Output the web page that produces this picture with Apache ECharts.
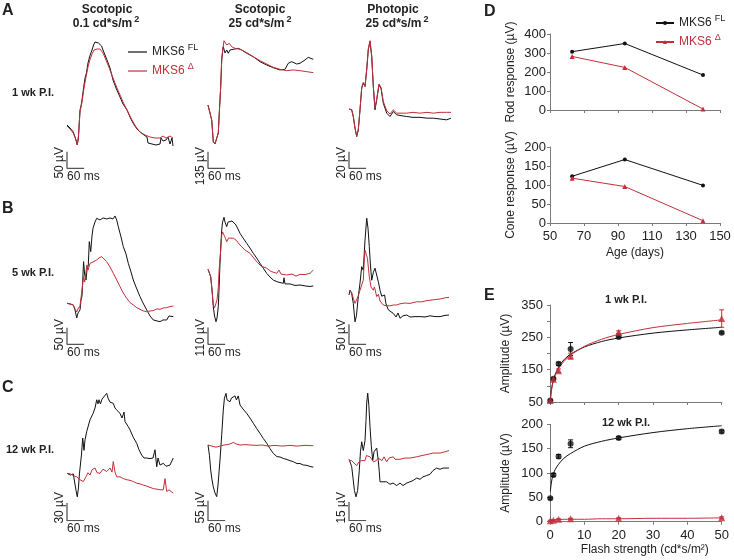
<!DOCTYPE html>
<html><head><meta charset="utf-8">
<script src="https://cdn.jsdelivr.net/npm/echarts@6/dist/echarts.min.js"></script>
<style>html,body{margin:0;padding:0;background:#fff}#c{width:734px;height:560px}</style>
</head><body><div id="c"></div>
<script>
// ---------- ERG traces: [time (ms), amplitude (µV, relative to pre-flash level)] ----------
const A1_FL = [[0,0],[10.5,-9],[22,-21],[31.5,-45],[36,-60],[40,-39],[45.5,45],[49,57],[52.5,75],[58,111],[63,141],[68,156],[73.5,186],[80,207],[87.5,225],[93,240],[98,249],[105,252],[110,246],[115.5,252],[121,237],[126,225],[133,210],[140,195],[150.5,171],[161,135],[171.5,111],[185.5,84],[196,63],[210,45],[220.5,24],[231,6],[245,-12],[255.5,-21],[269.5,-30],[280,-36],[283.5,-54],[297.5,-57],[311.5,-60],[325.5,-57],[329,-39],[336,-48],[346.5,-45],[353.5,-36],[360.5,-57],[367.5,-39],[371,-63]];
const A1_D = [[0,-3],[10.5,-12],[22,-24],[31.5,-45],[36,-60],[40,-33],[45.5,39],[52.5,69],[59.5,111],[66.5,144],[73.5,174],[80,195],[87.5,213],[94.5,225],[105,228],[115.5,228],[126,216],[136.5,195],[150.5,165],[161,141],[175,111],[185.5,90],[199.5,63],[213.5,39],[227.5,15],[241.5,-6],[255.5,-21],[273,-30],[290.5,-36],[308,-39],[325.5,-39],[336,-33],[346.5,-39],[360.5,-33],[371,-39]];
const A2_FL = [[0,0],[7,-14],[13,-122],[18.5,-297],[24.5,-316],[30.5,-332],[36,-227],[39.5,-65],[44.5,148],[48,365],[51.5,446],[53.5,472],[59.5,421],[65.5,446],[71,419],[77,446],[88.5,451],[106,459],[118,446],[135.5,419],[158.5,391],[182,351],[205.5,324],[228.5,302],[252,284],[269.5,289],[281,338],[293,351],[310.5,332],[322,338],[339.5,365],[351,386],[368.5,370]];
const A2_D = [[0,0],[7,-14],[13,-122],[18.5,-297],[24.5,-316],[30.5,-332],[36,-227],[39.5,-65],[44.5,148],[48,365],[51.5,446],[56,521],[65.5,486],[74.5,500],[83,472],[94.5,459],[112,451],[135.5,424],[158.5,391],[182,359],[205.5,332],[228.5,305],[252,289],[275.5,278],[298.5,284],[322,278],[345.5,270],[368.5,262]];
const A3_FL = [[0,0],[9.5,-1],[15,-9],[21,-23],[27,-33],[32.5,-25],[38.5,-1],[44.5,25],[50,31],[56,27],[62,47],[67.5,71],[73.5,81],[79.5,63],[85,27],[91,-1],[97,11],[105,29],[112,25],[120,7],[132,-5],[143.5,-9],[155,-3],[167,-7],[182,-8],[202,-9],[224,-10],[248.5,-10],[273,-11],[295,-11],[318.5,-12],[342,-13],[357,-11]];
const A3_D = [[0,0],[9.5,-1],[15,-9],[21,-23],[27,-33],[32.5,-25],[38.5,-1],[44.5,26],[50,32],[56,27],[62,48],[67.5,72],[73.5,82],[79.5,64],[85,28],[91,1],[97,12],[105,30],[112,26],[120,9],[132,-2],[143.5,-6],[155,-1],[167,-5],[182,-5],[202,-5],[224,-4],[248.5,-5],[273,-4],[295,-5],[318.5,-4],[342,-4],[357,-4]];
const B1_FL = [[0,0],[10.5,-2],[22,-5],[28,-20],[34,-44],[38.5,-29],[45.5,-20],[49,10],[52.5,22],[58,125],[62,85],[66.5,70],[70,100],[74.5,115],[78,185],[83,155],[87.5,202],[91,225],[98,244],[104,255],[115.5,250],[126,256],[139,253],[150.5,256],[161,253],[168,262],[174,250],[179.5,230],[189,199],[197,170],[206.5,148],[214.5,120],[224,94],[232,70],[241.5,49],[255.5,20],[266,1],[279,-20],[290.5,-38],[302,-50],[315,-53],[325.5,-55],[336,-50],[349,-50],[357,-38],[364,-43],[372,-40]];
const B1_D = [[0,0],[10.5,-2],[22,-5],[28,-17],[34,-26],[38.5,-17],[45.5,-8],[52.5,40],[58,80],[62,64],[69.5,115],[74,100],[80.5,120],[91,124],[104,130],[112,136],[121.5,140],[129.5,133],[139,125],[150.5,109],[162,90],[174,70],[185.5,50],[197,31],[209,15],[220.5,2],[232,-5],[244,-13],[255.5,-18],[267,-23],[279,-25],[290.5,-23],[302,-22],[314,-17],[325.5,-18],[337,-14],[349,-13],[360.5,-10],[372,-8]];
const B2_FL = [[0,0],[9.5,-48],[14,-135],[18.5,-243],[23,-304],[28,-341],[31.5,-317],[36,-243],[38.5,-135],[42,39],[45,158],[48,255],[51,307],[56,338],[59.5,307],[65.5,277],[70,307],[77,299],[84,314],[88.5,309],[98,288],[112,234],[122.5,204],[135.5,169],[147,138],[158.5,104],[170.5,73],[182,39],[193.5,7],[205.5,-26],[217,-50],[228.5,-70],[245,-83],[263.5,-91],[266,-55],[269.5,-95],[287,-95],[304.5,-105],[322,-102],[339.5,-108],[357,-112],[368.5,-108]];
const B2_D = [[0,0],[9.5,-48],[14,-135],[18.5,-230],[23,-250],[28,-240],[31.5,-200],[36,-120],[39,0],[44.5,125],[48,223],[51,243],[56,255],[61,203],[65.5,179],[72,203],[77,190],[88.5,202],[98,190],[112,158],[129.5,125],[147,104],[170.5,49],[186,21],[205.5,7],[220.5,-14],[240.5,-26],[248.5,-5],[255.5,-31],[275.5,-37],[294,-31],[308,-44],[322,-33],[339.5,-34],[357,-26],[368.5,-5]];
const B3_FL = [[0,0],[3.5,12],[9,5],[15,-21],[21,-67],[26,-52],[32.5,-4],[38.5,30],[44.5,71],[50,62],[56,137],[62,192],[66.5,167],[71,121],[75,75],[79.5,37],[85.5,57],[91,67],[97,62],[103,32],[108.5,12],[114.5,-3],[120,-8],[124.5,0],[129.5,-22],[137.5,-37],[147,-42],[155,-46],[164.5,-55],[171.5,-45],[178.5,-58],[189,-52],[202,-50],[213.5,-55],[231,-54],[248.5,-54],[266,-55],[283.5,-52],[301,-54],[318.5,-54],[336,-51],[350,-50]];
const B3_D = [[0,10],[3.5,12],[9,7],[15,-8],[21,-21],[27,-17],[32.5,-2],[38.5,12],[44.5,25],[50,37],[53,82],[56,112],[62,117],[64.5,92],[71,46],[77,20],[85,12],[89,20],[97,-4],[103,2],[108.5,-15],[120,-25],[132,-27],[143.5,-27],[155,-25],[167,-25],[178.5,-22],[196,-20],[213.5,-21],[236,-17],[255,-17],[273,-14],[295,-12],[318.5,-10],[336,-7],[350,-6]];
const C1_FL = [[0,0],[11.5,-3],[22,-1],[28,-3],[31.5,-29],[36,-40],[40,-25],[43.5,-1],[45.5,-3],[50.5,31],[55,60],[59.5,39],[63,57],[69,71],[73.5,68],[80.5,91],[85.5,94],[91.5,102],[98,111],[104,125],[108.5,118],[112,125],[117,118],[122.5,126],[129.5,123],[139,136],[143.5,128],[150.5,121],[162,119],[168,111],[175,107],[185.5,102],[192.5,94],[199.5,104],[203,88],[213.5,80],[220.5,74],[231,62],[244,51],[252,40],[261.5,31],[269.5,26],[279,26],[290.5,25],[301,26],[308,40],[314,11],[318.5,26],[325.5,14],[337,17],[346.5,12],[360.5,14],[367.5,14],[372,26]];
const C1_D = [[0,0],[11.5,-1],[22,-4],[34,-6],[45.5,-11],[57,-14],[66.5,-6],[73.5,1],[80.5,-3],[87.5,6],[98,9],[105,1],[115.5,0],[126,7],[139,3],[150.5,9],[157.5,2],[162,20],[168,2],[174,-6],[185.5,-6],[197,-9],[210,-11],[220.5,-12],[232,-14],[245,-17],[255.5,-18],[267,-20],[280,-22],[290.5,-24],[302,-26],[315,-27],[325.5,-28],[337,-28],[343,-9],[349,-31],[357,-28],[372,-34]];
const C2_FL = [[0,0],[5,-28],[9.5,-69],[14,-96],[18.5,-115],[24.5,-132],[30.5,-142],[35,-110],[42,-41],[48,28],[53.5,96],[57.5,129],[63,142],[66.5,124],[71.5,129],[77,119],[82,129],[88.5,124],[94.5,135],[99.5,124],[106,135],[112,110],[122.5,99],[135.5,87],[147,74],[158.5,60],[170.5,45],[182,32],[193.5,18],[205.5,5],[217,-10],[228.5,-23],[241.5,-32],[252,-33],[259,-28],[263.5,-37],[273,-39],[287,-43],[298.5,-46],[311.5,-51],[322,-51],[333.5,-55],[346.5,-56],[357,-59],[368.5,-61]];
const C2_D = [[0,0],[7,-3],[17.5,-4],[28,-6],[42,-3],[56,0],[70,1],[80.5,4],[88.5,7],[98,3],[112,0],[129.5,1],[147,0],[168,-1],[189,0],[210,-3],[234.5,-1],[259,-3],[287,-1],[311.5,-3],[339.5,-1],[368.5,-2]];
const C3_FL = [[0,0],[5,-3],[9.5,-6],[14,-15],[19,-25],[24.5,-30],[30,-25],[36,-9],[40,6],[44.5,14],[50,7],[56,15],[59.5,31],[62,45],[65.5,53],[69.5,43],[73.5,26],[78,11],[83,-1],[87.5,6],[91,7],[97,9],[102.5,-1],[106,-10],[108.5,-18],[119,-18],[132,-18],[143.5,-20],[154,-19],[167,-21],[178.5,-19],[189,-21],[202,-19],[213.5,-18],[224,-17],[237,-15],[248.5,-16],[259,-14],[272,-13],[283.5,-12],[294,-9],[307,-7],[318.5,-8],[329,-7],[339.5,-7],[350,-7]];
const C3_D = [[0,-1],[8.5,-1],[17.5,-3],[27,-5],[35,-2],[43.5,-1],[50,0],[56,-1],[61,3],[66.5,4],[73.5,2],[80.5,1],[85.5,-2],[91,-3],[96,-1],[101.5,1],[108.5,1],[115.5,-1],[122.5,2],[132,-2],[140,1],[147,0],[155,2],[161,0],[168,1],[178.5,0],[196,1],[213.5,1],[237,2],[255.5,3],[276.5,4],[295,5],[318.5,5],[336,6],[350,7]];

// scale bars
const SCALE_MS = 60;
const SCALE_UV = [50, 135, 20, 50, 110, 50, 30, 55, 15];

// ---------- Panel D ----------
const AGE = [63, 94, 140];
const ROD_FL = [307, 350, 184];
const ROD_D = [282, 224, 5];
const CONE_FL = [123, 167, 99];
const CONE_D = [118, 96, 6];

// ---------- Panel E ----------
const FLASH = [0.1, 1, 2.5, 6, 20, 50];
const E1_FL = [55, 122, 168, 214, 251, 264];
const E1_FL_ERR = [2, 3, 5, 20, 3, 3];
const E1_D = [55, 120, 147, 192, 266, 308];
const E1_D_ERR = [2, 3, 5, 9, 4, 27];
const E12_FL = [48, 96, 134, 160, 172, 185];
const E12_FL_ERR = [2, 3, 4, 8, 3, 3];
const E12_D = [2, 3, 5, 6, 7, 8];
const E12_D_ERR = [1, 1, 1, 1, 1, 2];
const FIT_X = [0.1, 0.3, 0.6, 1, 1.5, 2.5, 4, 6, 10, 15, 20, 30, 40, 50];
const FIT1_FL = [55, 78, 100, 118, 135, 158, 180, 198, 220, 237, 248, 263, 273, 281];
const FIT1_D = [55, 76, 97, 116, 132, 153, 175, 195, 222, 244, 259, 280, 293, 304];
const FIT12_FL = [62, 75, 88, 98, 107, 118, 130, 140, 155, 165, 172, 183, 191, 197];
const FIT12_D = [2, 3, 3, 3, 4, 4, 5, 5, 5, 6, 6, 7, 7, 8];

// ---------- layout / style ----------
const FONT = "'Liberation Sans', Arial, Helvetica, sans-serif";
const RED = '#c0303a', BLK = '#111111', AX = '#7a7a7a', TXT = '#222222';
const MS_PER_PX = 3.5, TRACE_W = 112;
const ROWS = [{top: 35, corner: 168.3, labTop: 147}, {top: 210, corner: 344.3, labTop: 319}, {top: 385, corner: 520.7, labTop: 492}];
const COLS = [67, 208, 349];
const TRACES = [
  {fl: A1_FL, d: A1_D, r: 0, c: 0, base: 125, k: 3.0},
  {fl: A2_FL, d: A2_D, r: 0, c: 1, base: 105, k: 8.1},
  {fl: A3_FL, d: A3_D, r: 0, c: 2, base: 109, k: 1.2},
  {fl: B1_FL, d: B1_D, r: 1, c: 0, base: 303.3, k: 3.0},
  {fl: B2_FL, d: B2_D, r: 1, c: 1, base: 269.3, k: 6.5},
  {fl: B3_FL, d: B3_D, r: 1, c: 2, base: 295, k: 2.5},
  {fl: C1_FL, d: C1_D, r: 2, c: 0, base: 473.3, k: 1.7},
  {fl: C2_FL, d: C2_D, r: 2, c: 1, base: 445, k: 2.75},
  {fl: C3_FL, d: C3_D, r: 2, c: 2, base: 459.3, k: 0.8}
];

function txt(text, x, y, o) {
  o = o || {};
  const st = {text: text, fill: o.color || TXT, fontSize: o.size || 12, fontWeight: o.weight || 'normal', fontFamily: FONT,
    align: o.align || 'left', verticalAlign: o.va || 'middle', textAlign: o.align || 'left', textVerticalAlign: o.va || 'middle'};
  if (o.rich) st.rich = o.rich;
  return {type: 'text', x: x, y: y, rotation: o.rot || 0, silent: true, style: st};
}

const grid = [], xAxis = [], yAxis = [], series = [], graphic = [];

TRACES.forEach(function (p, i) {
  const row = ROWS[p.r], left = COLS[p.c];
  const H = row.corner - row.top;
  const ymin = -(row.corner - p.base) * p.k, ymax = (p.base - row.top) * p.k;
  grid.push({left: left, top: row.top, width: TRACE_W, height: H});
  xAxis.push({gridIndex: i, type: 'value', min: 0, max: TRACE_W * MS_PER_PX, show: false});
  yAxis.push({gridIndex: i, type: 'value', min: ymin, max: ymax, show: false});
  series.push({type: 'line', name: 'MKS6FL', xAxisIndex: i, yAxisIndex: i, data: p.fl, symbol: 'none', color: BLK,
    lineStyle: {width: 1, color: BLK}, z: 2});
  series.push({type: 'line', name: 'MKS6Δ', xAxisIndex: i, yAxisIndex: i, data: p.d, symbol: 'none', color: RED,
    lineStyle: {width: 1, color: RED}, z: 3});
  series.push({type: 'line', name: 'scale', xAxisIndex: i, yAxisIndex: i, symbol: 'none', silent: true,
    data: [[0, ymin + SCALE_UV[i]], [0, ymin], [SCALE_MS, ymin]], lineStyle: {width: 1.3, color: '#555'}, z: 1});
  graphic.push(txt(SCALE_MS + ' ms', left, row.corner + 2, {va: 'top', size: 12}));
  graphic.push(txt(SCALE_UV[i] + ' µV', left - 7.5, row.labTop, {rot: Math.PI / 2, align: 'right', va: 'middle', size: 12}));
});

// panel D grids 9, 10 ; panel E grids 11, 12
grid.push({left: 550, top: 34, width: 170, height: 76});
grid.push({left: 550, top: 147, width: 170, height: 76});
grid.push({left: 550, top: 305, width: 171.7, height: 97});
grid.push({left: 550, top: 424.3, width: 171.7, height: 97.4});

const axLine = {show: true, onZero: false, lineStyle: {color: AX, width: 1}};
const axTick = {show: true, length: 3, lineStyle: {color: AX}};
const lab = {color: TXT, fontSize: 13, fontFamily: FONT};
const nameStyle = {color: TXT, fontSize: 12, fontFamily: FONT};

xAxis.push({gridIndex: 9, type: 'value', min: 50, max: 150, interval: 20, axisLine: axLine, axisTick: axTick, axisLabel: {show: false}, splitLine: {show: false}});
xAxis.push({gridIndex: 10, type: 'value', min: 50, max: 150, interval: 20, axisLine: axLine, axisTick: axTick,
  axisLabel: Object.assign({margin: 7}, lab), splitLine: {show: false},
  name: 'Age (days)', nameLocation: 'middle', nameGap: 24, nameTextStyle: nameStyle});
yAxis.push({gridIndex: 9, type: 'value', min: 0, max: 400, interval: 100, axisLine: axLine, axisTick: axTick,
  axisLabel: Object.assign({margin: 4}, lab), splitLine: {show: false},
  name: 'Rod response (µV)', nameLocation: 'middle', nameGap: 33, nameTextStyle: nameStyle});
yAxis.push({gridIndex: 10, type: 'value', min: 0, max: 200, interval: 50, axisLine: axLine, axisTick: axTick,
  axisLabel: Object.assign({margin: 4}, lab), splitLine: {show: false},
  name: 'Cone response (µV)', nameLocation: 'middle', nameGap: 33, nameTextStyle: nameStyle});

xAxis.push({gridIndex: 11, type: 'value', min: 0, max: 50, interval: 10, axisLine: axLine, axisTick: axTick, axisLabel: {show: false}, splitLine: {show: false}});
xAxis.push({gridIndex: 12, type: 'value', min: 0, max: 50, interval: 10, axisLine: axLine, axisTick: axTick,
  axisLabel: Object.assign({margin: 7}, lab), splitLine: {show: false},
  name: 'Flash strength (cd*s/m²)', nameLocation: 'middle', nameGap: 22, nameTextStyle: Object.assign({padding: [0, 0, 0, 18]}, nameStyle)});
yAxis.push({gridIndex: 11, type: 'value', min: 50, max: 350, interval: 100, axisLine: axLine, axisTick: axTick,
  minorTick: {show: true, splitNumber: 2, length: 3, lineStyle: {color: AX}},
  axisLabel: Object.assign({margin: 7}, lab), splitLine: {show: false},
  name: 'Amplitude (µV)', nameLocation: 'middle', nameGap: 38, nameTextStyle: nameStyle});
yAxis.push({gridIndex: 12, type: 'value', min: 0, max: 200, interval: 50, axisLine: axLine, axisTick: axTick,
  axisLabel: Object.assign({margin: 7}, lab), splitLine: {show: false},
  name: 'Amplitude (µV)', nameLocation: 'middle', nameGap: 38, nameTextStyle: nameStyle});

function pairs(xs, ys) { return xs.map(function (x, i) { return [x, ys[i]]; }); }
function triples(xs, ys, es) { return xs.map(function (x, i) { return [x, ys[i], es[i]]; }); }

// D
series.push({type: 'line', name: 'D:MKS6FL', xAxisIndex: 9, yAxisIndex: 9, data: pairs(AGE, ROD_FL), color: BLK, symbol: 'circle', symbolSize: 4, lineStyle: {width: 1, color: BLK}});
series.push({type: 'line', name: 'D:MKS6Δ', xAxisIndex: 9, yAxisIndex: 9, data: pairs(AGE, ROD_D), color: RED, symbol: 'triangle', symbolSize: 5, lineStyle: {width: 1, color: RED}});
series.push({type: 'line', name: 'D:MKS6FL', xAxisIndex: 10, yAxisIndex: 10, data: pairs(AGE, CONE_FL), color: BLK, symbol: 'circle', symbolSize: 4, lineStyle: {width: 1, color: BLK}});
series.push({type: 'line', name: 'D:MKS6Δ', xAxisIndex: 10, yAxisIndex: 10, data: pairs(AGE, CONE_D), color: RED, symbol: 'triangle', symbolSize: 5, lineStyle: {width: 1, color: RED}});

// E
function errRender(params, api) {
  const x = api.value(0), y = api.value(1), e = api.value(2);
  const t = api.coord([x, y + e]), b = api.coord([x, y - e]);
  const c = api.visual('color'), w = 2.5;
  return {type: 'group', children: [
    {type: 'line', shape: {x1: t[0], y1: t[1], x2: b[0], y2: b[1]}, style: {stroke: c, lineWidth: 1}},
    {type: 'line', shape: {x1: t[0] - w, y1: t[1], x2: t[0] + w, y2: t[1]}, style: {stroke: c, lineWidth: 1}},
    {type: 'line', shape: {x1: b[0] - w, y1: b[1], x2: b[0] + w, y2: b[1]}, style: {stroke: c, lineWidth: 1}}
  ]};
}
[[11, E1_FL, E1_FL_ERR, E1_D, E1_D_ERR, FIT1_FL, FIT1_D], [12, E12_FL, E12_FL_ERR, E12_D, E12_D_ERR, FIT12_FL, FIT12_D]].forEach(function (s) {
  const g = s[0];
  series.push({type: 'line', name: 'fitFL', xAxisIndex: g, yAxisIndex: g, data: pairs(FIT_X, s[5]), smooth: 0.3, symbol: 'none', color: BLK, lineStyle: {width: 1, color: BLK}, z: 2});
  series.push({type: 'line', name: 'fitD', xAxisIndex: g, yAxisIndex: g, data: pairs(FIT_X, s[6]), smooth: 0.3, symbol: 'none', color: RED, lineStyle: {width: 1, color: RED}, z: 3});
  series.push({type: 'custom', name: 'errFL', xAxisIndex: g, yAxisIndex: g, data: triples(FLASH, s[1], s[2]), renderItem: errRender, color: BLK, z: 4});
  series.push({type: 'custom', name: 'errD', xAxisIndex: g, yAxisIndex: g, data: triples(FLASH, s[3], s[4]), renderItem: errRender, color: RED, z: 4});
  series.push({type: 'scatter', name: 'ptFL', xAxisIndex: g, yAxisIndex: g, data: pairs(FLASH, s[1]), symbol: 'circle', symbolSize: 6, color: BLK, z: 5});
  series.push({type: 'scatter', name: 'ptD', xAxisIndex: g, yAxisIndex: g, data: pairs(FLASH, s[3]), symbol: 'triangle', symbolSize: 7, color: RED, z: 6});
});

// text
const supRich = {m: {fontSize: 12, fontFamily: FONT}, s: {fontSize: 9, fontFamily: FONT, padding: [0, 0, 9, 3]}};
function legFmt(n) { return n.indexOf('FL') >= 0 ? '{m|MKS6}{s|FL}' : '{m|MKS6}{s|Δ}'; }
const legBase = {orient: 'vertical', padding: 0, selectedMode: false, formatter: legFmt, textStyle: {color: TXT, fontSize: 12, fontFamily: FONT, rich: supRich}};
const legend = [
  Object.assign({}, legBase, {data: ['MKS6FL'], left: 128, top: 43, icon: 'rect', itemWidth: 19, itemHeight: 1.2}),
  Object.assign({}, legBase, {data: [{name: 'MKS6Δ', textStyle: {color: RED}}], left: 128, top: 62, icon: 'rect', itemWidth: 19, itemHeight: 1.2}),
  Object.assign({}, legBase, {data: ['D:MKS6FL'], left: 655, top: 14, itemWidth: 18, itemHeight: 5}),
  Object.assign({}, legBase, {data: [{name: 'D:MKS6Δ', textStyle: {color: RED}}], left: 655, top: 33, itemWidth: 18, itemHeight: 5})
];

const hdrRich = {a: {fontSize: 12, fontWeight: 'bold', fontFamily: FONT}, b: {fontSize: 9, fontWeight: 'bold', fontFamily: FONT, padding: [0, 0, 8, 2]}};
graphic.push(txt('A', 2, 11, {size: 16, weight: 'bold'}));
graphic.push(txt('B', 2, 209, {size: 16, weight: 'bold'}));
graphic.push(txt('C', 2, 387.5, {size: 16, weight: 'bold'}));
graphic.push(txt('D', 484, 12, {size: 16, weight: 'bold'}));
graphic.push(txt('E', 484, 296, {size: 16, weight: 'bold'}));
graphic.push(txt('Scotopic', 107, 9.5, {align: 'center', weight: 'bold'}));
graphic.push(txt('{a|0.1 cd*s/m}{b|2}', 106, 23.5, {align: 'center', rich: hdrRich}));
graphic.push(txt('Scotopic', 260, 9.5, {align: 'center', weight: 'bold'}));
graphic.push(txt('{a|25 cd*s/m}{b|2}', 260, 23.5, {align: 'center', rich: hdrRich}));
graphic.push(txt('Photopic', 393, 9.5, {align: 'center', weight: 'bold'}));
graphic.push(txt('{a|25 cd*s/m}{b|2}', 397, 23.5, {align: 'center', rich: hdrRich}));
graphic.push(txt('1 wk P.I.', 54, 93, {align: 'right', weight: 'bold', size: 11}));
graphic.push(txt('5 wk P.I.', 54, 273, {align: 'right', weight: 'bold', size: 11}));
graphic.push(txt('12 wk P.I.', 54, 450, {align: 'right', weight: 'bold', size: 11}));
graphic.push(txt('1 wk P.I.', 626, 300, {align: 'center', weight: 'bold', size: 11}));
graphic.push(txt('12 wk P.I.', 626, 423, {align: 'center', weight: 'bold', size: 11}));

const chart = echarts.init(document.getElementById('c'), null, {renderer: 'canvas'});
chart.setOption({
  animation: false,
  backgroundColor: '#ffffff',
  textStyle: {fontFamily: FONT},
  grid: grid, xAxis: xAxis, yAxis: yAxis, series: series, legend: legend, graphic: graphic
});
</script></body></html>
